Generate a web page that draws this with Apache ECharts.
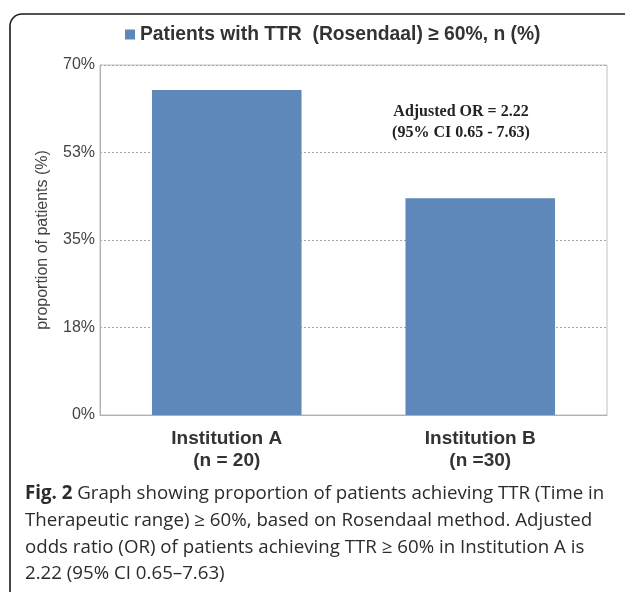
<!DOCTYPE html>
<html><head><meta charset="utf-8">
<script src="https://cdn.jsdelivr.net/npm/echarts@6/dist/echarts.min.js"></script>
<style>html,body{margin:0;padding:0;background:#fff}#c{width:625px;height:592px}</style>
</head><body><div id="c"></div>
<script>
const categories = ['Institution A\n(n = 20)', 'Institution B\n(n =30)'];
const seriesName = 'Patients with TTR  (Rosendaal) \u2265 60%, n (%)';
const values = [65, 43.33];
const yMin = 0, yMax = 70, yStep = 17.5;
const annotationLines = ['Adjusted OR = 2.22', '(95% CI 0.65 - 7.63)'];
const captionLines = [
  ['Fig. 2', ' Graph showing proportion of patients achieving TTR (Time in'],
  ['', 'Therapeutic range) \u2265 60%, based on Rosendaal method. Adjusted'],
  ['', 'odds ratio (OR) of patients achieving TTR \u2265 60% in Institution A is'],
  ['', '2.22 (95% CI 0.65\u20137.63)']
];

const chart = echarts.init(document.getElementById('c'));
const captionGraphics = captionLines.map((l, i) => ({
  type: 'text', x: 25, y: 494 + i * 26.7,
  style: {
    text: (l[0] ? '{b|' + l[0] + '}' : '') + '{r|' + l[1] + '}',
    verticalAlign: 'middle',
    rich: {
      b: {fontFamily: 'Open Sans', fontSize: 18.7, fontWeight: 'bold', fill: '#2b2b2b'},
      r: {fontFamily: 'Open Sans', fontSize: 18.7, fill: '#2b2b2b'}
    }
  }
}));
chart.setOption({
  animation: false,
  legend: {
    top: 20, left: 120,
    itemWidth: 10, itemHeight: 10, itemGap: 4,
    textStyle: {fontFamily: 'Liberation Sans', fontSize: 19.3, fontWeight: 'bold', color: '#333'},
    data: [{name: seriesName, icon: 'rect'}]
  },
  grid: {left: 100, top: 65, width: 507, height: 350, show: true, borderColor: '#c0c0c0', borderWidth: 1},
  xAxis: {
    type: 'category', data: categories,
    axisLine: {lineStyle: {color: '#b0b0b0'}},
    axisTick: {show: false},
    axisLabel: {fontFamily: 'Liberation Sans', fontSize: 19, fontWeight: 'bold', color: '#333', lineHeight: 22, margin: 13}
  },
  yAxis: {
    type: 'value', min: yMin, max: yMax, interval: yStep,
    name: 'proportion of patients (%)', nameLocation: 'middle', nameGap: 49, nameRotate: 90,
    nameTextStyle: {fontFamily: 'Liberation Sans', fontSize: 16, color: '#444'},
    axisLine: {show: true, lineStyle: {color: '#b0b0b0'}},
    axisTick: {show: false},
    axisLabel: {fontFamily: 'Liberation Sans', fontSize: 16, color: '#444', margin: 5,
      formatter: v => Math.round(v) + '%'},
    splitLine: {lineStyle: {color: '#a8a8a8', type: [2, 2]}}
  },
  series: [{
    name: seriesName, type: 'bar', data: values, barWidth: '59%',
    itemStyle: {color: '#5e87ba'}
  }],
  graphic: [{
    type: 'rect', shape: {x: 10, y: 14, width: 700, height: 700, r: [12, 0, 0, 0]},
    style: {fill: 'none', stroke: '#1a1a1a', lineWidth: 1.6}, z: 100
  }, {
    type: 'text', x: 461, y: 122.5,
    style: {text: annotationLines.join('\n'), align: 'center', verticalAlign: 'middle',
      fontFamily: 'Liberation Serif', fontSize: 16, fontWeight: 'bold', fill: '#222', lineHeight: 21}
  }].concat(captionGraphics)
});
</script></body></html>
